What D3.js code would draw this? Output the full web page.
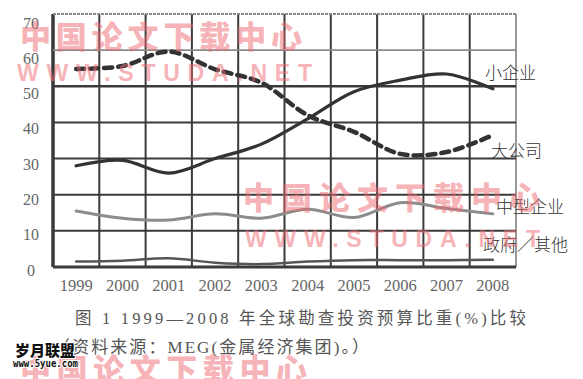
<!DOCTYPE html>
<html><head><meta charset="utf-8">
<script src="https://cdn.jsdelivr.net/npm/d3@7"></script>
<style>html,body{margin:0;padding:0;background:#fff;overflow:hidden}</style>
</head><body>
<svg id="c" width="583" height="379"></svg>
<script>
const years = ["1999","2000","2001","2002","2003","2004","2005","2006","2007","2008"];
const yTicks = [0,10,20,30,40,50,60,70];
const smallEnt = [28, 29.5, 26, 30, 34, 41, 48.5, 51.7, 53.4, 49.3];   // 小企业
const majorCo  = [54.8, 55.6, 59.6, 54.7, 51, 42, 37.4, 31.3, 31.8, 36.5]; // 大公司
const midEnt   = [15.5, 13.5, 13, 14.7, 13.5, 16, 13.7, 17.8, 16.2, 14.7]; // 中型企业
const govOther = [1.5, 1.75, 2.4, 1.2, 0.8, 1.5, 1.9, 1.9, 1.9, 2];      // 政府／其他
const seriesNames = ["小企业","大公司","中型企业","政府／其他"];
const caption1 = "图 1   1999—2008 年全球勘查投资预算比重(%)比较";
const caption2 = "（资料来源：MEG(金属经济集团)。）";

const svg = d3.select("#c");
const x = d3.scaleBand().domain(years).range([53,516]).padding(0);
const y = d3.scaleLinear().domain([0,70]).range([267,14]);
const yLab = d3.scaleLinear().domain([0,70]).range([270,23]);

// grid
const g = svg.append("g");
const vEdges = years.map(d=>x(d)).concat([x.range()[1]]);
g.selectAll("line.v").data(vEdges).enter().append("line")
  .attr("x1",d=>d).attr("x2",d=>d).attr("y1",y(70)).attr("y2",y(0))
  .attr("stroke",(d,i)=> i===vEdges.length-1 ? "#777" : "#3a3a3a")
  .attr("stroke-width",(d,i)=> i===0 ? 3.5 : (i===vEdges.length-1 ? 1.5 : 2));
g.selectAll("line.h").data(yTicks).enter().append("line")
  .attr("x1",x.range()[0]).attr("x2",x.range()[1]).attr("y1",d=>y(d)).attr("y2",d=>y(d))
  .attr("stroke",d=> d>=60 ? "#8a8a8a" : "#3a3a3a")
  .attr("stroke-dasharray",d=> d===70 ? "3,1" : null)
  .attr("stroke-width",d=> d===0 ? 3 : (d===50 ? 2.6 : (d>=60 ? 1.8 : 2)));

// y labels
svg.append("g").selectAll("text").data(yTicks).enter().append("text")
  .attr("x",31).attr("y",d=>yLab(d)).attr("text-anchor","middle").attr("dominant-baseline","central")
  .attr("font-family","Liberation Serif, serif").attr("font-size",16).attr("fill","#666")
  .text(d=>d);

// x axis labels
const xAxis = d3.axisBottom(x).tickSize(0).tickPadding(0);
const xa = svg.append("g").attr("transform","translate(0,279)").call(xAxis);
xa.select(".domain").remove();
xa.selectAll("text").attr("font-family","Liberation Serif, serif").attr("font-size",16.5).attr("fill","#666");

// lines
const cx = d=>x(d)+x.bandwidth()/2;
const line = d3.line().x((d,i)=>cx(years[i])).y(d=>y(d)).curve(d3.curveCatmullRom.alpha(0.5));
const series = [
  {v:midEnt, stroke:"#8c8c8c", w:3, dash:null},
  {v:govOther, stroke:"#555", w:2.5, dash:null},
  {v:smallEnt, stroke:"#333", w:3.2, dash:null},
  {v:majorCo, stroke:"#333", w:4.5, dash:"8,6"}
];
svg.append("g").selectAll("path").data(series).enter().append("path")
  .attr("d",d=>line(d.v)).attr("fill","none").attr("stroke",d=>d.stroke)
  .attr("stroke-width",d=>d.w).attr("stroke-dasharray",d=>d.dash)
  .attr("stroke-linecap","round").attr("stroke-linejoin","round");

// series labels
const labPos = [[485,71],[491,149],[496,205],[483,243]];
svg.append("g").selectAll("text").data(seriesNames).enter().append("text")
  .attr("x",(d,i)=>labPos[i][0]).attr("y",(d,i)=>labPos[i][1])
  .attr("dominant-baseline","central")
  .attr("font-family","Noto Sans CJK SC, sans-serif").attr("font-size",17).attr("fill","#333")
  .attr("font-weight",300)
  .text(d=>d);

// captions
svg.append("text").attr("x",75).attr("y",318).attr("dominant-baseline","central")
  .attr("font-family","Liberation Serif, Noto Sans CJK SC, serif").attr("font-size",16.5).attr("fill","#555")
  .attr("textLength",451).attr("lengthAdjust","spacing").text(caption1);
svg.append("text").attr("x",53).attr("y",347).attr("dominant-baseline","central")
  .attr("font-family","Liberation Serif, Noto Sans CJK SC, serif").attr("font-size",17).attr("fill","#555")
  .attr("textLength",316).attr("lengthAdjust","spacing").text(caption2);

// watermarks
const wm = svg.append("g").attr("fill","#ee6b73").attr("opacity",0.5);
const wmCn = "中国论文下载中心", wmEn = "WWW.STUDA.NET";
[[20,34,282],[243,195,297],[20,367,287]].forEach(p=>{
  wm.append("text").attr("x",p[0]).attr("y",p[1]).attr("dominant-baseline","central")
    .attr("font-family","Noto Sans CJK SC, sans-serif").attr("font-weight",900).attr("font-size",31)
    .attr("textLength",p[2]).attr("lengthAdjust","spacing").text(wmCn);
});
[[17,73,295],[245,239,295]].forEach(p=>{
  wm.append("text").attr("x",p[0]).attr("y",p[1]).attr("dominant-baseline","central")
    .attr("font-family","Liberation Sans, Arial, sans-serif").attr("font-weight",700).attr("font-size",23)
    .attr("textLength",p[2]).attr("lengthAdjust","spacing").text(wmEn);
});
svg.append("text").attr("x",15).attr("y",349).attr("dominant-baseline","central")
  .attr("font-family","Noto Sans CJK SC, sans-serif").attr("font-weight",900).attr("font-size",15)
  .attr("fill","#111").attr("stroke","#fff").attr("stroke-width",2).attr("paint-order","stroke")
  .attr("textLength",60).attr("lengthAdjust","spacing").text("岁月联盟");
svg.append("text").attr("x",13).attr("y",363).attr("dominant-baseline","central")
  .attr("font-family","DejaVu Sans Mono, monospace").attr("font-weight",700).attr("font-size",10.5)
  .attr("fill","#111").attr("stroke","#fff").attr("stroke-width",2).attr("paint-order","stroke")
  .attr("textLength",65).attr("lengthAdjust","spacingAndGlyphs").text("www.5yue.com");
</script>
</body></html>
